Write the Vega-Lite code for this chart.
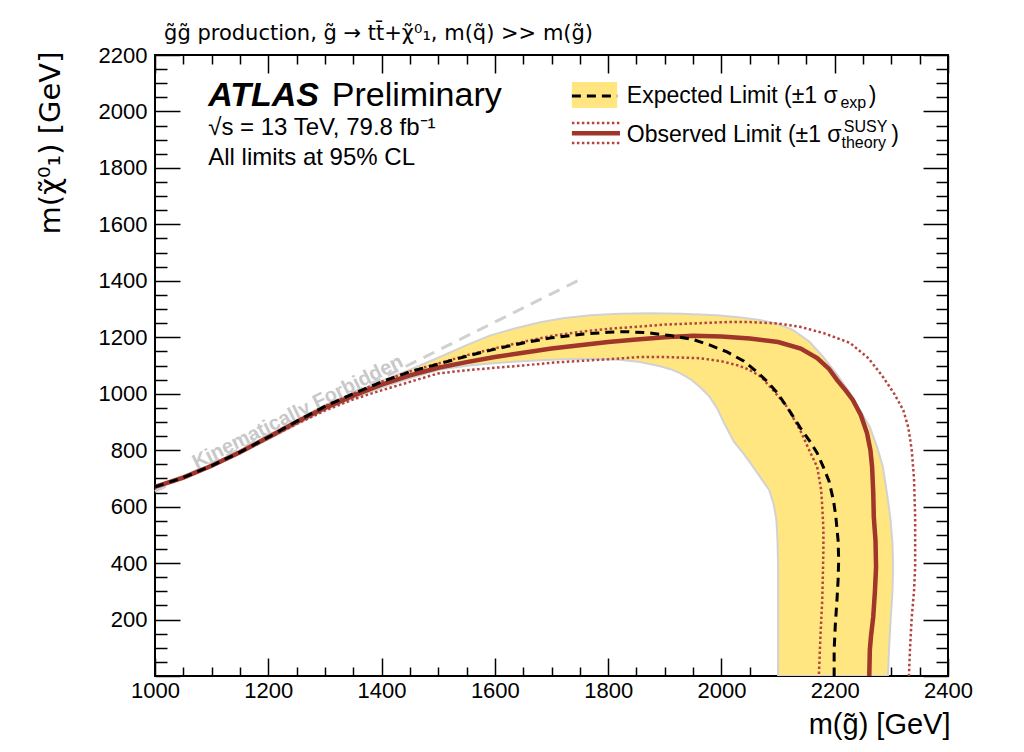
{
"$schema": "https://vega.github.io/schema/vega-lite/v6.json",
"width": 793, "height": 621,
"autosize": {"type": "none"},
"padding": {"left": 155, "top": 55, "right": 76, "bottom": 76},
"background": "white",
"config": {"view": {"stroke": "black", "strokeWidth": 2}, "font": "Liberation Sans"},
"datasets": {
"curves": [
{"s":"band","i":0,"x":1000,"y":672},{"s":"band","i":1,"x":1100,"y":748},{"s":"band","i":2,"x":1200,"y":852},{"s":"band","i":3,"x":1300,"y":960},{"s":"band","i":4,"x":1350,"y":1003},{"s":"band","i":5,"x":1400,"y":1045},{"s":"band","i":6,"x":1450,"y":1085},{"s":"band","i":7,"x":1503,"y":1130},{"s":"band","i":8,"x":1550,"y":1172},{"s":"band","i":9,"x":1591,"y":1206},{"s":"band","i":10,"x":1640,"y":1234},{"s":"band","i":11,"x":1680,"y":1253},{"s":"band","i":12,"x":1720,"y":1267},{"s":"band","i":13,"x":1768,"y":1278},{"s":"band","i":14,"x":1820,"y":1283},{"s":"band","i":15,"x":1874,"y":1285},{"s":"band","i":16,"x":1930,"y":1283},{"s":"band","i":17,"x":1992,"y":1278},{"s":"band","i":18,"x":2030,"y":1271},{"s":"band","i":19,"x":2068,"y":1261},{"s":"band","i":20,"x":2100,"y":1247},{"s":"band","i":21,"x":2126,"y":1226},{"s":"band","i":22,"x":2155,"y":1185},{"s":"band","i":23,"x":2179,"y":1132},{"s":"band","i":24,"x":2205,"y":1065},{"s":"band","i":25,"x":2227,"y":1002},{"s":"band","i":26,"x":2245,"y":940},{"s":"band","i":27,"x":2262,"y":882},{"s":"band","i":28,"x":2275,"y":810},{"s":"band","i":29,"x":2285,"y":741},{"s":"band","i":30,"x":2292,"y":650},{"s":"band","i":31,"x":2298,"y":564},{"s":"band","i":32,"x":2302,"y":470},{"s":"band","i":33,"x":2303,"y":386},{"s":"band","i":34,"x":2302,"y":300},{"s":"band","i":35,"x":2299,"y":209},{"s":"band","i":36,"x":2296,"y":100},{"s":"band","i":37,"x":2294,"y":0},{"s":"band","i":38,"x":2100,"y":0},{"s":"band","i":39,"x":2100,"y":200},{"s":"band","i":40,"x":2100,"y":386},{"s":"band","i":41,"x":2099,"y":480},{"s":"band","i":42,"x":2097,"y":553},{"s":"band","i":43,"x":2092,"y":610},{"s":"band","i":44,"x":2084,"y":660},{"s":"band","i":45,"x":2070,"y":700},{"s":"band","i":46,"x":2056,"y":741},{"s":"band","i":47,"x":2040,"y":785},{"s":"band","i":48,"x":2022,"y":830},{"s":"band","i":49,"x":2005,"y":895},{"s":"band","i":50,"x":1992,"y":950},{"s":"band","i":51,"x":1978,"y":992},{"s":"band","i":52,"x":1962,"y":1024},{"s":"band","i":53,"x":1945,"y":1052},{"s":"band","i":54,"x":1927,"y":1073},{"s":"band","i":55,"x":1910,"y":1087},{"s":"band","i":56,"x":1892,"y":1097},{"s":"band","i":57,"x":1856,"y":1112},{"s":"band","i":58,"x":1820,"y":1120},{"s":"band","i":59,"x":1768,"y":1124},{"s":"band","i":60,"x":1720,"y":1122},{"s":"band","i":61,"x":1680,"y":1119},{"s":"band","i":62,"x":1640,"y":1114},{"s":"band","i":63,"x":1591,"y":1107},{"s":"band","i":64,"x":1550,"y":1099},{"s":"band","i":65,"x":1503,"y":1086},{"s":"band","i":66,"x":1450,"y":1055},{"s":"band","i":67,"x":1400,"y":1022},{"s":"band","i":68,"x":1350,"y":983},{"s":"band","i":69,"x":1300,"y":943},{"s":"band","i":70,"x":1200,"y":838},{"s":"band","i":71,"x":1100,"y":740},{"s":"band","i":72,"x":1000,"y":668},
{"s":"kin","i":0,"x":1000,"y":654},{"s":"kin","i":1,"x":1750,"y":1404},
{"s":"obs","i":0,"x":1000,"y":670},{"s":"obs","i":1,"x":1050,"y":703},{"s":"obs","i":2,"x":1100,"y":745},{"s":"obs","i":3,"x":1150,"y":793},{"s":"obs","i":4,"x":1200,"y":846},{"s":"obs","i":5,"x":1250,"y":900},{"s":"obs","i":6,"x":1300,"y":950},{"s":"obs","i":7,"x":1350,"y":993},{"s":"obs","i":8,"x":1400,"y":1032},{"s":"obs","i":9,"x":1450,"y":1065},{"s":"obs","i":10,"x":1500,"y":1092},{"s":"obs","i":11,"x":1550,"y":1112},{"s":"obs","i":12,"x":1600,"y":1130},{"s":"obs","i":13,"x":1650,"y":1145},{"s":"obs","i":14,"x":1700,"y":1160},{"s":"obs","i":15,"x":1750,"y":1172},{"s":"obs","i":16,"x":1800,"y":1183},{"s":"obs","i":17,"x":1850,"y":1192},{"s":"obs","i":18,"x":1900,"y":1200},{"s":"obs","i":19,"x":1950,"y":1205},{"s":"obs","i":20,"x":2000,"y":1203},{"s":"obs","i":21,"x":2050,"y":1196},{"s":"obs","i":22,"x":2100,"y":1183},{"s":"obs","i":23,"x":2140,"y":1160},{"s":"obs","i":24,"x":2169,"y":1126},{"s":"obs","i":25,"x":2190,"y":1088},{"s":"obs","i":26,"x":2204,"y":1049},{"s":"obs","i":27,"x":2220,"y":1010},{"s":"obs","i":28,"x":2232,"y":978},{"s":"obs","i":29,"x":2246,"y":925},{"s":"obs","i":30,"x":2257,"y":861},{"s":"obs","i":31,"x":2263,"y":800},{"s":"obs","i":32,"x":2266,"y":741},{"s":"obs","i":33,"x":2268,"y":650},{"s":"obs","i":34,"x":2269,"y":564},{"s":"obs","i":35,"x":2272,"y":480},{"s":"obs","i":36,"x":2273,"y":386},{"s":"obs","i":37,"x":2271,"y":300},{"s":"obs","i":38,"x":2268,"y":209},{"s":"obs","i":39,"x":2264,"y":140},{"s":"obs","i":40,"x":2262,"y":92},{"s":"obs","i":41,"x":2261,"y":0},
{"s":"exp","i":0,"x":1000,"y":670},{"s":"exp","i":1,"x":1050,"y":703},{"s":"exp","i":2,"x":1100,"y":745},{"s":"exp","i":3,"x":1150,"y":793},{"s":"exp","i":4,"x":1200,"y":846},{"s":"exp","i":5,"x":1250,"y":902},{"s":"exp","i":6,"x":1300,"y":955},{"s":"exp","i":7,"x":1350,"y":1000},{"s":"exp","i":8,"x":1400,"y":1042},{"s":"exp","i":9,"x":1450,"y":1078},{"s":"exp","i":10,"x":1500,"y":1105},{"s":"exp","i":11,"x":1550,"y":1133},{"s":"exp","i":12,"x":1600,"y":1158},{"s":"exp","i":13,"x":1650,"y":1180},{"s":"exp","i":14,"x":1700,"y":1198},{"s":"exp","i":15,"x":1750,"y":1210},{"s":"exp","i":16,"x":1800,"y":1218},{"s":"exp","i":17,"x":1830,"y":1220},{"s":"exp","i":18,"x":1870,"y":1216},{"s":"exp","i":19,"x":1910,"y":1206},{"s":"exp","i":20,"x":1950,"y":1192},{"s":"exp","i":21,"x":1980,"y":1172},{"s":"exp","i":22,"x":2010,"y":1148},{"s":"exp","i":23,"x":2040,"y":1115},{"s":"exp","i":24,"x":2063,"y":1077},{"s":"exp","i":25,"x":2080,"y":1045},{"s":"exp","i":26,"x":2098,"y":1005},{"s":"exp","i":27,"x":2120,"y":940},{"s":"exp","i":28,"x":2139,"y":880},{"s":"exp","i":29,"x":2155,"y":835},{"s":"exp","i":30,"x":2169,"y":790},{"s":"exp","i":31,"x":2180,"y":740},{"s":"exp","i":32,"x":2190,"y":690},{"s":"exp","i":33,"x":2198,"y":620},{"s":"exp","i":34,"x":2202,"y":564},{"s":"exp","i":35,"x":2206,"y":480},{"s":"exp","i":36,"x":2207,"y":411},{"s":"exp","i":37,"x":2206,"y":340},{"s":"exp","i":38,"x":2204,"y":269},{"s":"exp","i":39,"x":2201,"y":180},{"s":"exp","i":40,"x":2199,"y":92},{"s":"exp","i":41,"x":2199,"y":0},
{"s":"up","i":0,"x":1000,"y":670},{"s":"up","i":1,"x":1050,"y":703},{"s":"up","i":2,"x":1100,"y":745},{"s":"up","i":3,"x":1150,"y":794},{"s":"up","i":4,"x":1200,"y":847},{"s":"up","i":5,"x":1250,"y":903},{"s":"up","i":6,"x":1300,"y":956},{"s":"up","i":7,"x":1350,"y":1001},{"s":"up","i":8,"x":1400,"y":1043},{"s":"up","i":9,"x":1450,"y":1079},{"s":"up","i":10,"x":1500,"y":1107},{"s":"up","i":11,"x":1550,"y":1136},{"s":"up","i":12,"x":1600,"y":1161},{"s":"up","i":13,"x":1650,"y":1184},{"s":"up","i":14,"x":1700,"y":1205},{"s":"up","i":15,"x":1750,"y":1219},{"s":"up","i":16,"x":1800,"y":1230},{"s":"up","i":17,"x":1856,"y":1238},{"s":"up","i":18,"x":1900,"y":1245},{"s":"up","i":19,"x":1962,"y":1250},{"s":"up","i":20,"x":2010,"y":1254},{"s":"up","i":21,"x":2050,"y":1254},{"s":"up","i":22,"x":2100,"y":1249},{"s":"up","i":23,"x":2139,"y":1237},{"s":"up","i":24,"x":2180,"y":1215},{"s":"up","i":25,"x":2227,"y":1180},{"s":"up","i":26,"x":2260,"y":1125},{"s":"up","i":27,"x":2285,"y":1060},{"s":"up","i":28,"x":2305,"y":1000},{"s":"up","i":29,"x":2321,"y":942},{"s":"up","i":30,"x":2330,"y":880},{"s":"up","i":31,"x":2336,"y":800},{"s":"up","i":32,"x":2340,"y":700},{"s":"up","i":33,"x":2342,"y":564},{"s":"up","i":34,"x":2342,"y":386},{"s":"up","i":35,"x":2340,"y":300},{"s":"up","i":36,"x":2336,"y":209},{"s":"up","i":37,"x":2333,"y":100},{"s":"up","i":38,"x":2331,"y":0},
{"s":"dn","i":0,"x":1000,"y":670},{"s":"dn","i":1,"x":1050,"y":702},{"s":"dn","i":2,"x":1100,"y":743},{"s":"dn","i":3,"x":1150,"y":790},{"s":"dn","i":4,"x":1200,"y":842},{"s":"dn","i":5,"x":1250,"y":893},{"s":"dn","i":6,"x":1300,"y":940},{"s":"dn","i":7,"x":1350,"y":980},{"s":"dn","i":8,"x":1400,"y":1012},{"s":"dn","i":9,"x":1450,"y":1042},{"s":"dn","i":10,"x":1500,"y":1072},{"s":"dn","i":11,"x":1550,"y":1083},{"s":"dn","i":12,"x":1600,"y":1092},{"s":"dn","i":13,"x":1650,"y":1100},{"s":"dn","i":14,"x":1700,"y":1110},{"s":"dn","i":15,"x":1750,"y":1116},{"s":"dn","i":16,"x":1800,"y":1122},{"s":"dn","i":17,"x":1856,"y":1130},{"s":"dn","i":18,"x":1900,"y":1130},{"s":"dn","i":19,"x":1962,"y":1126},{"s":"dn","i":20,"x":2000,"y":1115},{"s":"dn","i":21,"x":2030,"y":1100},{"s":"dn","i":22,"x":2050,"y":1084},{"s":"dn","i":23,"x":2070,"y":1060},{"s":"dn","i":24,"x":2086,"y":1024},{"s":"dn","i":25,"x":2100,"y":992},{"s":"dn","i":26,"x":2116,"y":953},{"s":"dn","i":27,"x":2139,"y":871},{"s":"dn","i":28,"x":2155,"y":800},{"s":"dn","i":29,"x":2169,"y":741},{"s":"dn","i":30,"x":2176,"y":660},{"s":"dn","i":31,"x":2178,"y":600},{"s":"dn","i":32,"x":2180,"y":520},{"s":"dn","i":33,"x":2180,"y":446},{"s":"dn","i":34,"x":2179,"y":350},{"s":"dn","i":35,"x":2178,"y":269},{"s":"dn","i":36,"x":2175,"y":150},{"s":"dn","i":37,"x":2172,"y":0}
],
"legend": [
{"role":"box","x":1736,"x2":1816,"y":2012,"y2":2104},
{"role":"exp","x":1736,"x2":1816,"y":2055,"y2":2055},
{"role":"obs","x":1736,"x2":1821,"y":1923,"y2":1923},
{"role":"band","x":1736,"x2":1821,"y":1959,"y2":1959},
{"role":"band","x":1736,"x2":1821,"y":1888,"y2":1888}
],
"labels": [
{"role":"title","x":1016,"y":2253,"t":"g̃g̃  production, g̃ → tt̄+χ̃⁰₁, m(q̃) >> m(g̃)"},
{"role":"atlas","x":1094,"y":2019,"t":"ATLAS"},
{"role":"big","x":1312,"y":2019,"t":"Preliminary"},
{"role":"med","x":1094,"y":1916,"t":"√s = 13 TeV, 79.8 fb⁻¹"},
{"role":"med","x":1094,"y":1810,"t":"All limits at 95% CL"},
{"role":"leg","x":1833,"y":2030,"t":"Expected Limit (±1 σ"},
{"role":"small","x":2210,"y":2012,"t":"exp"},
{"role":"leg","x":2260,"y":2030,"t":")"},
{"role":"leg","x":1833,"y":1892,"t":"Observed Limit (±1 σ"},
{"role":"small","x":2216,"y":1928,"t":"SUSY"},
{"role":"small","x":2212,"y":1870,"t":"theory"},
{"role":"leg","x":2300,"y":1892,"t":")"},
{"role":"kin","x":1252,"y":935,"t":"Kinematically Forbidden"}
]
},
"resolve": {"axis": {"x": "independent", "y": "independent"}},
"layer": [
{
"data": {"name": "curves"},
"transform": [{"filter": "datum.s === 'band'"}],
"mark": {"type": "line", "fill": "#ffe680", "stroke": "#d2d2d2", "strokeWidth": 2, "clip": true},
"encoding": {
"x": {"field": "x", "type": "quantitative", "scale": {"domain": [1000, 2400], "nice": false, "zero": false},
"axis": {"orient": "bottom", "values": [1000,1200,1400,1600,1800,2000,2200,2400], "format": "d", "tickSize": -18, "tickWidth": 1.5, "tickColor": "black", "domain": false, "grid": false, "labelPadding": 22, "labelFontSize": 22, "labelFont": "Liberation Sans", "labelColor": "black", "labelFlush": false, "labelOverlap": false, "title": "m(g̃) [GeV]", "titleFont": "Liberation Sans", "titleFontSize": 29, "titleFontWeight": "normal", "titleColor": "black", "titleAnchor": "end", "titleAlign": "right", "titleBaseline": "alphabetic", "titleX": 795, "titleY": 57}},
"y": {"field": "y", "type": "quantitative", "scale": {"domain": [0, 2200], "nice": false},
"axis": {"orient": "left", "values": [0,200,400,600,800,1000,1200,1400,1600,1800,2000,2200], "format": "d", "labelExpr": "datum.value == 0 ? '' : datum.label", "tickSize": -25, "tickWidth": 1.5, "tickColor": "black", "domain": false, "grid": false, "labelPadding": 33, "labelFontSize": 22, "labelFont": "Liberation Sans", "labelColor": "black", "labelOverlap": false, "title": "m(χ̃⁰₁) [GeV]", "titleFont": "DejaVu Sans", "titleFontSize": 29, "titleFontWeight": "normal", "titleColor": "black", "titleAnchor": "end", "titleAngle": 270, "titleAlign": "right", "titleBaseline": "top", "titleX": -119, "titleY": -4}},
"order": {"field": "i", "type": "quantitative"}
}
},
{
"data": {"name": "curves"},
"transform": [{"filter": "datum.s === 'kin'"}],
"mark": {"type": "line", "stroke": "#d0d0d0", "strokeWidth": 3, "strokeDash": [12, 8]},
"encoding": {
"x": {"field": "x", "type": "quantitative", "axis": {"orient": "bottom", "values": [1050,1100,1150,1250,1300,1350,1450,1500,1550,1650,1700,1750,1850,1900,1950,2050,2100,2150,2250,2300,2350], "tickSize": -9, "tickWidth": 1.5, "tickColor": "black", "domain": false, "grid": false, "labels": false, "title": null}},
"y": {"field": "y", "type": "quantitative", "axis": {"orient": "left", "values": [50,100,150,250,300,350,450,500,550,650,700,750,850,900,950,1050,1100,1150,1250,1300,1350,1450,1500,1550,1650,1700,1750,1850,1900,1950,2050,2100,2150], "tickSize": -12, "tickWidth": 1.5, "tickColor": "black", "domain": false, "grid": false, "labels": false, "title": null}},
"order": {"field": "i", "type": "quantitative"}
}
},
{
"data": {"name": "labels"},
"transform": [{"filter": "datum.role === 'kin'"}],
"mark": {"type": "text", "font": "Liberation Sans", "fontWeight": "bold", "fontSize": 20, "color": "#c8c8c8", "angle": 333.6, "align": "center", "baseline": "middle"},
"encoding": {
"x": {"field": "x", "type": "quantitative", "axis": {"orient": "top", "values": [1000,1200,1400,1600,1800,2000,2200,2400], "tickSize": -18, "tickWidth": 1.5, "tickColor": "black", "domain": false, "grid": false, "labels": false, "title": null}},
"y": {"field": "y", "type": "quantitative", "axis": {"orient": "right", "values": [0,200,400,600,800,1000,1200,1400,1600,1800,2000,2200], "tickSize": -25, "tickWidth": 1.5, "tickColor": "black", "domain": false, "grid": false, "labels": false, "title": null}},
"text": {"field": "t"}
}
},
{
"data": {"name": "curves"},
"transform": [{"filter": "datum.s === 'up' || datum.s === 'dn'"}],
"mark": {"type": "line", "stroke": "#b4443f", "strokeWidth": 2.5, "strokeDash": [2.5, 2.5], "clip": true},
"encoding": {
"x": {"field": "x", "type": "quantitative", "axis": {"orient": "top", "values": [1050,1100,1150,1250,1300,1350,1450,1500,1550,1650,1700,1750,1850,1900,1950,2050,2100,2150,2250,2300,2350], "tickSize": -9, "tickWidth": 1.5, "tickColor": "black", "domain": false, "grid": false, "labels": false, "title": null}},
"y": {"field": "y", "type": "quantitative", "axis": {"orient": "right", "values": [50,100,150,250,300,350,450,500,550,650,700,750,850,900,950,1050,1100,1150,1250,1300,1350,1450,1500,1550,1650,1700,1750,1850,1900,1950,2050,2100,2150], "tickSize": -12, "tickWidth": 1.5, "tickColor": "black", "domain": false, "grid": false, "labels": false, "title": null}},
"detail": {"field": "s"},
"order": {"field": "i", "type": "quantitative"}
}
},
{
"data": {"name": "curves"},
"transform": [{"filter": "datum.s === 'obs'"}],
"mark": {"type": "line", "stroke": "#a0352a", "strokeWidth": 4.5, "clip": true},
"encoding": {
"x": {"field": "x", "type": "quantitative", "axis": null},
"y": {"field": "y", "type": "quantitative", "axis": null},
"order": {"field": "i", "type": "quantitative"}
}
},
{
"data": {"name": "curves"},
"transform": [{"filter": "datum.s === 'exp'"}],
"mark": {"type": "line", "stroke": "black", "strokeWidth": 3, "strokeDash": [9, 6], "clip": true},
"encoding": {
"x": {"field": "x", "type": "quantitative", "axis": null},
"y": {"field": "y", "type": "quantitative", "axis": null},
"order": {"field": "i", "type": "quantitative"}
}
},
{
"data": {"name": "legend"},
"transform": [{"filter": "datum.role === 'box'"}],
"mark": {"type": "rect", "fill": "#ffe680"},
"encoding": {
"x": {"field": "x", "type": "quantitative", "axis": null}, "x2": {"field": "x2"},
"y": {"field": "y", "type": "quantitative", "axis": null}, "y2": {"field": "y2"}
}
},
{
"data": {"name": "legend"},
"transform": [{"filter": "datum.role === 'exp'"}],
"mark": {"type": "rule", "stroke": "black", "strokeWidth": 3, "strokeDash": [9, 6]},
"encoding": {
"x": {"field": "x", "type": "quantitative", "axis": null}, "x2": {"field": "x2"},
"y": {"field": "y", "type": "quantitative", "axis": null}
}
},
{
"data": {"name": "legend"},
"transform": [{"filter": "datum.role === 'obs'"}],
"mark": {"type": "rule", "stroke": "#a0352a", "strokeWidth": 4.5},
"encoding": {
"x": {"field": "x", "type": "quantitative", "axis": null}, "x2": {"field": "x2"},
"y": {"field": "y", "type": "quantitative", "axis": null}
}
},
{
"data": {"name": "legend"},
"transform": [{"filter": "datum.role === 'band'"}],
"mark": {"type": "rule", "stroke": "#b4443f", "strokeWidth": 2.5, "strokeDash": [2.5, 2.5]},
"encoding": {
"x": {"field": "x", "type": "quantitative", "axis": null}, "x2": {"field": "x2"},
"y": {"field": "y", "type": "quantitative", "axis": null}
}
},
{
"data": {"name": "labels"},
"transform": [{"filter": "datum.role === 'title'"}],
"mark": {"type": "text", "font": "DejaVu Sans", "fontSize": 21, "color": "black", "align": "left", "baseline": "alphabetic"},
"encoding": {"x": {"field": "x", "type": "quantitative", "axis": null}, "y": {"field": "y", "type": "quantitative", "axis": null}, "text": {"field": "t"}}
},
{
"data": {"name": "labels"},
"transform": [{"filter": "datum.role === 'atlas'"}],
"mark": {"type": "text", "font": "Liberation Sans", "fontWeight": "bold", "fontStyle": "italic", "fontSize": 34, "color": "black", "align": "left", "baseline": "alphabetic"},
"encoding": {"x": {"field": "x", "type": "quantitative", "axis": null}, "y": {"field": "y", "type": "quantitative", "axis": null}, "text": {"field": "t"}}
},
{
"data": {"name": "labels"},
"transform": [{"filter": "datum.role === 'big'"}],
"mark": {"type": "text", "font": "Liberation Sans", "fontSize": 34, "color": "black", "align": "left", "baseline": "alphabetic"},
"encoding": {"x": {"field": "x", "type": "quantitative", "axis": null}, "y": {"field": "y", "type": "quantitative", "axis": null}, "text": {"field": "t"}}
},
{
"data": {"name": "labels"},
"transform": [{"filter": "datum.role === 'med'"}],
"mark": {"type": "text", "font": "Liberation Sans", "fontSize": 24, "color": "black", "align": "left", "baseline": "alphabetic"},
"encoding": {"x": {"field": "x", "type": "quantitative", "axis": null}, "y": {"field": "y", "type": "quantitative", "axis": null}, "text": {"field": "t"}}
},
{
"data": {"name": "labels"},
"transform": [{"filter": "datum.role === 'leg'"}],
"mark": {"type": "text", "font": "Liberation Sans", "fontSize": 23, "color": "black", "align": "left", "baseline": "alphabetic"},
"encoding": {"x": {"field": "x", "type": "quantitative", "axis": null}, "y": {"field": "y", "type": "quantitative", "axis": null}, "text": {"field": "t"}}
},
{
"data": {"name": "labels"},
"transform": [{"filter": "datum.role === 'small'"}],
"mark": {"type": "text", "font": "Liberation Sans", "fontSize": 16, "color": "black", "align": "left", "baseline": "alphabetic"},
"encoding": {"x": {"field": "x", "type": "quantitative", "axis": null}, "y": {"field": "y", "type": "quantitative", "axis": null}, "text": {"field": "t"}}
}
]
}
